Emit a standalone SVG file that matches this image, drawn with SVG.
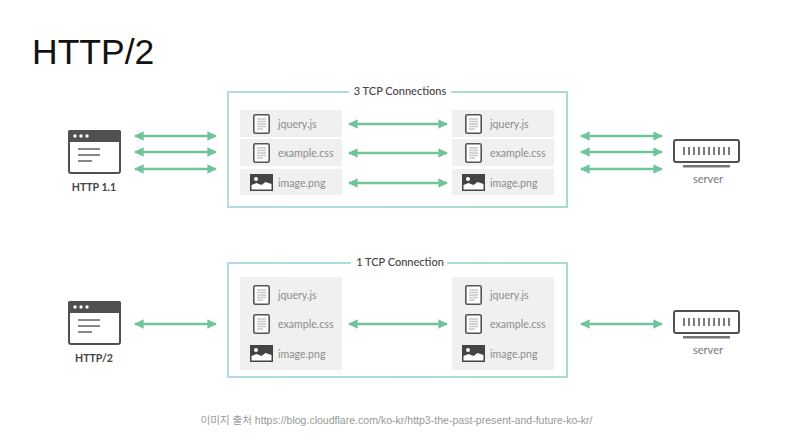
<svg xmlns="http://www.w3.org/2000/svg" xmlns:xlink="http://www.w3.org/1999/xlink" width="791" height="444" viewBox="0 0 791 444">
<style>
text{font-family:"Lato","Open Sans","Noto Sans CJK KR",sans-serif}
.file{font-size:10.600px;fill:#8c8c8c}
.tile{fill:#f0f0f0}
.box{fill:#fff;stroke:url(#edge);stroke-width:2}
.conn{stroke:#70c49b;stroke-width:2.400;fill:none;marker-start:url(#ah);marker-end:url(#ah)}
.lbl{font-size:10.600px;font-weight:700;fill:#444;text-anchor:middle}
.cap{font-size:11px;font-weight:500;fill:#444;text-anchor:middle}
.srv{font-size:11px;fill:#777;text-anchor:middle}
</style>
<defs>
<linearGradient id="edge" gradientUnits="userSpaceOnUse" x1="228" y1="0" x2="567" y2="0"><stop offset="0" stop-color="#b2dbe2"/><stop offset="1" stop-color="#a8dccb"/></linearGradient>
<marker id="ah" viewBox="0 0 10 10" refX="9" refY="5" markerWidth="4" markerHeight="4.400" orient="auto-start-reverse"><path d="M0 0L10 5L0 10Z" fill="#70c49b"/></marker>
<g id="doc"><rect x="0.800" y="0.800" width="15.400" height="18.400" rx="1.500" fill="#fff" stroke="#555" stroke-width="1.600"/><path d="M4 5h9M4 7.500h9M4 10h9M4 12.500h9M4 15h6" stroke="#c8c8c8" stroke-width="1.300"/></g>
<g id="img"><rect width="23" height="17" fill="#444"/><path d="M1.500 15.500V11l5-2 5 2 4-3 6 2v5.500Z" fill="#fff"/><circle cx="6" cy="5" r="2" fill="#fff"/></g>
<g id="browser"><rect x="1" y="1" width="51" height="42" rx="2" fill="#fff" stroke="#505050" stroke-width="2"/><rect x="0" y="0" width="53" height="12" rx="2" fill="#505050"/><circle cx="7" cy="6" r="1.700" fill="#fff"/><circle cx="13" cy="6" r="1.700" fill="#fff"/><circle cx="19" cy="6" r="1.700" fill="#fff"/><path d="M10 19h22M10 25h22M10 31h14" stroke="#888" stroke-width="2"/></g>
<g id="server"><rect x="1" y="1" width="65" height="22" rx="2" fill="#fff" stroke="#505050" stroke-width="2"/><path d="M10 8v8M15 8v8M20 8v8M25 8v8M30 8v8M35 8v8M40 8v8M45 8v8M50 8v8M55 8v8" stroke="#505050" stroke-width="1.500" transform="translate(1 0)"/><rect x="10" y="26" width="47" height="2.500" fill="#777"/></g>
</defs>
<rect width="791" height="444" fill="#fff"/>
<text id="title" x="32" y="64" style="font-family:'Liberation Sans',sans-serif" font-size="35.500" fill="#111">HTTP/2</text>

<g id="group-top">
<rect class="box" x="228" y="92" width="339" height="115"/>
<rect x="349" y="84" width="102" height="14" fill="#fff"/>
<text class="cap" x="400" y="95">3 TCP Connections</text>
</g>
<g id="group-bottom">
<rect class="box" x="228" y="263" width="339" height="114"/>
<rect x="351" y="255" width="96" height="14" fill="#fff"/>
<text class="cap" x="400" y="266">1 TCP Connection</text>
</g>

<g id="browser-top"><use xlink:href="#browser" href="#browser" x="68" y="130"/><text class="lbl" x="94" y="191">HTTP 1.1</text></g>
<g id="browser-bottom"><use xlink:href="#browser" href="#browser" x="68" y="301"/><text class="lbl" x="94" y="362">HTTP/2</text></g>
<g id="server-top"><use xlink:href="#server" href="#server" x="673" y="139"/><text class="srv" x="708" y="183">server</text></g>
<g id="server-bottom"><use xlink:href="#server" href="#server" x="673" y="310"/><text class="srv" x="708" y="354">server</text></g>

<g id="client-files-top">
<rect class="tile" x="240" y="110" width="102" height="27"/><rect class="tile" x="240" y="139" width="102" height="27"/><rect class="tile" x="240" y="169" width="102" height="26"/>
<use xlink:href="#doc" href="#doc" x="253" y="114"/><text class="file" x="278" y="128">jquery.js</text>
<use xlink:href="#doc" href="#doc" x="253" y="143"/><text class="file" x="278" y="157">example.css</text>
<use xlink:href="#img" href="#img" x="250" y="174"/><text class="file" x="278" y="187">image.png</text>
</g>
<g id="server-files-top">
<rect class="tile" x="452" y="110" width="102" height="27"/><rect class="tile" x="452" y="139" width="102" height="27"/><rect class="tile" x="452" y="169" width="102" height="26"/>
<use xlink:href="#doc" href="#doc" x="465" y="114"/><text class="file" x="490" y="128">jquery.js</text>
<use xlink:href="#doc" href="#doc" x="465" y="143"/><text class="file" x="490" y="157">example.css</text>
<use xlink:href="#img" href="#img" x="462" y="174"/><text class="file" x="490" y="187">image.png</text>
</g>
<g id="client-files-bottom">
<rect class="tile" x="240" y="277" width="102" height="93"/>
<use xlink:href="#doc" href="#doc" x="253" y="285"/><text class="file" x="278" y="299">jquery.js</text>
<use xlink:href="#doc" href="#doc" x="253" y="314"/><text class="file" x="278" y="328">example.css</text>
<use xlink:href="#img" href="#img" x="250" y="345"/><text class="file" x="278" y="358">image.png</text>
</g>
<g id="server-files-bottom">
<rect class="tile" x="452" y="277" width="102" height="93"/>
<use xlink:href="#doc" href="#doc" x="465" y="285"/><text class="file" x="490" y="299">jquery.js</text>
<use xlink:href="#doc" href="#doc" x="465" y="314"/><text class="file" x="490" y="328">example.css</text>
<use xlink:href="#img" href="#img" x="462" y="345"/><text class="file" x="490" y="358">image.png</text>
</g>

<g id="connectors">
<path class="conn" d="M135 136H216"/><path class="conn" d="M135 152H216"/><path class="conn" d="M135 169H216"/>
<path class="conn" d="M349 124H447"/><path class="conn" d="M349 153H447"/><path class="conn" d="M349 183H447"/>
<path class="conn" d="M581 136H662"/><path class="conn" d="M581 152H662"/><path class="conn" d="M581 169H662"/>
<path class="conn" d="M135 324H216"/><path class="conn" d="M349 324H447"/><path class="conn" d="M581 324H662"/>
</g>
<text id="source" x="396.500" y="424" text-anchor="middle" style="font-family:'Liberation Sans','Noto Sans CJK KR',sans-serif" font-size="10.550" fill="#999">이미지 출처 https://blog.cloudflare.com/ko-kr/http3-the-past-present-and-future-ko-kr/</text>
</svg>
